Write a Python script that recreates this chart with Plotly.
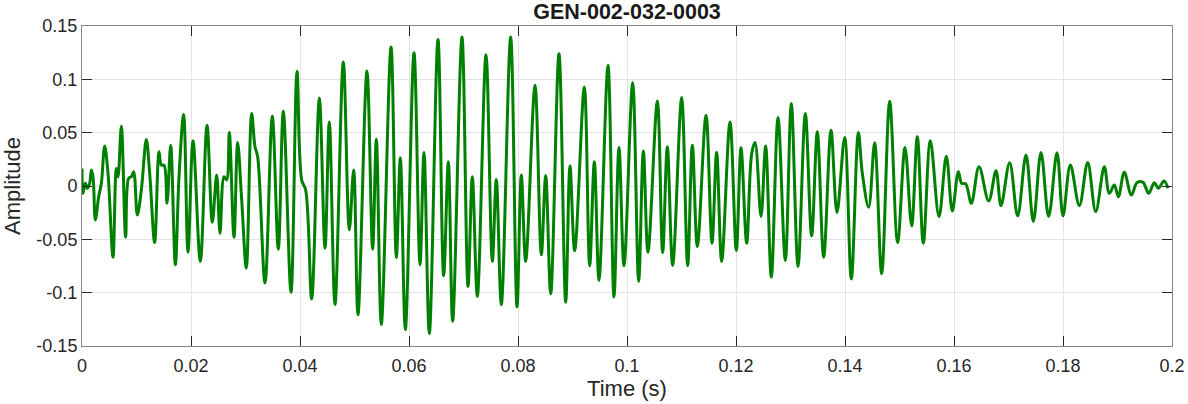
import plotly.graph_objects as go

# Extrema (and a few shoulder points)
time_ms = [
    0.00, 0.18, 0.61, 0.98, 1.41, 1.71, 2.02, 2.45, 3.06, 3.55, 4.16, 4.77, 5.69, 6.30, 6.61,
    7.22, 8.01, 8.56, 9.05, 9.48, 10.15, 10.89, 11.80, 12.42, 13.33, 14.13, 14.56, 15.05,
    15.60, 16.27, 17.13, 17.80, 18.65, 19.45, 20.37, 21.71, 22.94, 23.91,
    24.71, 25.32, 26.06, 26.54, 27.03, 27.89, 28.56, 29.30, 30.15, 31.13, 31.74, 32.23,
    33.58, 34.92, 36.02, 36.94, 38.35, 39.45, 40.31, 41.04, 42.14, 43.55, 44.59, 45.38,
    46.42, 47.95, 49.05,
    49.85, 50.64, 52.29, 53.33, 54.01, 54.92, 56.70, 57.68, 58.41, 59.33, 60.92, 62.02,
    62.75, 63.73, 65.32, 66.36, 67.22, 68.01, 69.72, 70.83, 71.62, 72.54, 74.13,
    75.29, 76.02, 76.94, 78.65, 79.82, 80.61, 81.41, 83.12, 84.28, 85.08, 86.00, 87.52,
    88.75, 89.54, 90.40, 92.17, 93.15, 94.01, 94.86, 96.51, 97.61, 98.53, 99.45,
    101.04, 102.14, 103.00, 103.85, 105.57, 106.54, 107.40, 108.38, 110.03, 111.13, 111.99,
    112.91, 114.50, 115.60, 116.45, 117.37, 118.90, 120.06, 120.92, 121.96, 122.88, 123.49,
    124.59,
    125.44, 126.48, 127.71, 129.05, 130.15, 131.38, 132.72, 133.88, 134.92, 136.09, 137.43,
    138.53, 139.94, 141.16, 142.45, 143.18, 144.34, 145.44, 146.73, 148.20, 149.66,
    151.01, 152.23, 153.27, 154.37, 155.66, 157.25, 158.59, 159.69, 160.80, 161.41, 162.14,
    163.18, 164.59, 166.36, 167.71, 168.62, 170.21, 171.68, 173.21, 174.56,
    175.96, 177.37, 178.90, 180.00, 181.35, 183.00, 184.53, 186.00, 187.58, 188.50, 189.42,
    190.15, 191.25, 192.54, 193.58, 194.68, 195.72, 196.76, 197.49, 198.53, 199.27,
]
amplitude = [
    0.0165, -0.0069, 0.0025, -0.0022, 0.0025, 0.0150, 0.0087, -0.0318, -0.0100, 0.0025,
    0.0374, 0.0118, -0.0667, 0.0165, 0.0087, 0.0561, -0.0480, 0.0072, 0.0087, 0.0134,
    -0.0271, -0.0037, 0.0436, 0.0118, -0.0530, 0.0321, 0.0196, 0.0196, -0.0162, 0.0383,
    -0.0738, 0.0087, 0.0670, -0.0620, 0.0424, -0.0707, 0.0570, -0.0340,
    0.0103, -0.0442, 0.0087, 0.0056, 0.0502, -0.0480, 0.0408, -0.0131, -0.0769, 0.0679,
    0.0368, 0.0274, -0.0910, 0.0657, -0.0592, 0.0701, -0.0997, 0.1075, 0.0056, -0.0037,
    -0.1059, 0.0826, -0.0583, 0.0601, -0.1112, 0.1162, -0.0411,
    0.0150, -0.1206, 0.1078, -0.0592, 0.0439, -0.1299, 0.1302, -0.0670, 0.0265, -0.1346,
    0.1249, -0.0738, 0.0315, -0.1383, 0.1374, -0.0841, 0.0227, -0.1268, 0.1396, -0.0941,
    0.0087, -0.1034, 0.1231,
    -0.0707, 0.0062, -0.1112, 0.1396, -0.1134, 0.0103, -0.0707, 0.0944, -0.0645, 0.0097,
    -0.1009, 0.1240, -0.1090, 0.0187, -0.0607, 0.0928, -0.0748, 0.0227, -0.0885, 0.1131,
    -0.1040, 0.0361, -0.0748,
    0.0969, -0.0894, 0.0327, -0.0620, 0.0798, -0.0623, 0.0368, -0.0745, 0.0829, -0.0748,
    0.0383, -0.0567, 0.0664, -0.0536, 0.0315, -0.0707, 0.0601, -0.0604, 0.0358, -0.0536,
    0.0305, 0.0408, -0.0287,
    0.0374, -0.0854, 0.0642, -0.0698, 0.0773, -0.0754, 0.0679, -0.0467, 0.0508, -0.0667,
    0.0523, -0.0249, 0.0455, -0.0872, 0.0502, 0.0118, -0.0199, 0.0405, -0.0822, 0.0794,
    -0.0530,
    0.0361, -0.0374, 0.0461, -0.0536, 0.0424, -0.0287, 0.0280, -0.0234, 0.0134, 0.0025,
    0.0019, -0.0162, 0.0181, -0.0140, 0.0143, -0.0184, 0.0218, -0.0280, 0.0290, -0.0333,
    0.0315, -0.0287, 0.0312, -0.0280, 0.0196, -0.0184, 0.0221, -0.0240, 0.0181, -0.0069,
    0.0009, -0.0100, 0.0128, -0.0084, 0.0031, 0.0034, -0.0069, 0.0031, -0.0022, 0.0047,
    -0.0022,
]
time_s = [t / 1000.0 for t in time_ms]

x_tickvals = [0, 0.02, 0.04, 0.06, 0.08, 0.1, 0.12, 0.14, 0.16, 0.18, 0.2]
x_ticktext = ["0", "0.02", "0.04", "0.06", "0.08", "0.1", "0.12", "0.14", "0.16", "0.18", "0.2"]
y_tickvals = [-0.15, -0.1, -0.05, 0, 0.05, 0.1, 0.15]
y_ticktext = ["-0.15", "-0.1", "-0.05", "0", "0.05", "0.1", "0.15"]

FONT = "Liberation Sans, Arial, sans-serif"

fig = go.Figure()
fig.add_trace(go.Scatter(
    x=time_s, y=amplitude, mode="lines",
    line=dict(color="#008000", width=3, shape="spline", smoothing=1.0),
    showlegend=False, hoverinfo="skip",
))

axis_common = dict(
    showline=True, linecolor="#868686", linewidth=1, mirror="allticks",
    ticks="inside", ticklen=10, tickcolor="#262626", tickwidth=1,
    showgrid=True, gridcolor="#e3e3e3", gridwidth=1, zeroline=False,
    automargin=False,
    tickfont=dict(family=FONT, size=18, color="#262626"),
)

fig.update_layout(
    width=1188, height=404,
    margin=dict(l=82, r=16, t=26, b=58),
    paper_bgcolor="white", plot_bgcolor="white",
    title=dict(text="<b>GEN-002-032-0003</b>", x=0.5278, xanchor="center",
               y=0.971, yanchor="middle", automargin=False,
               font=dict(family=FONT, size=21.5, color="#1a1a1a")),
    xaxis=dict(range=[0, 0.2], tickvals=x_tickvals, ticktext=x_ticktext,
               ticklabelstandoff=3,
               title=dict(text="Time (s)", standoff=2,
                          font=dict(family=FONT, size=22, color="#262626")),
               **axis_common),
    yaxis=dict(range=[-0.15, 0.15], tickvals=y_tickvals, ticktext=y_ticktext,
               title=dict(text="Amplitude",
                          font=dict(family=FONT, size=22, color="#262626")),
               **axis_common),
)

# remove the browser's default 8px body margin so the figure fills the window exactly
fig.write_html("out.html", config={"displayModeBar": False},
               post_script="document.body.style.margin='0';")
